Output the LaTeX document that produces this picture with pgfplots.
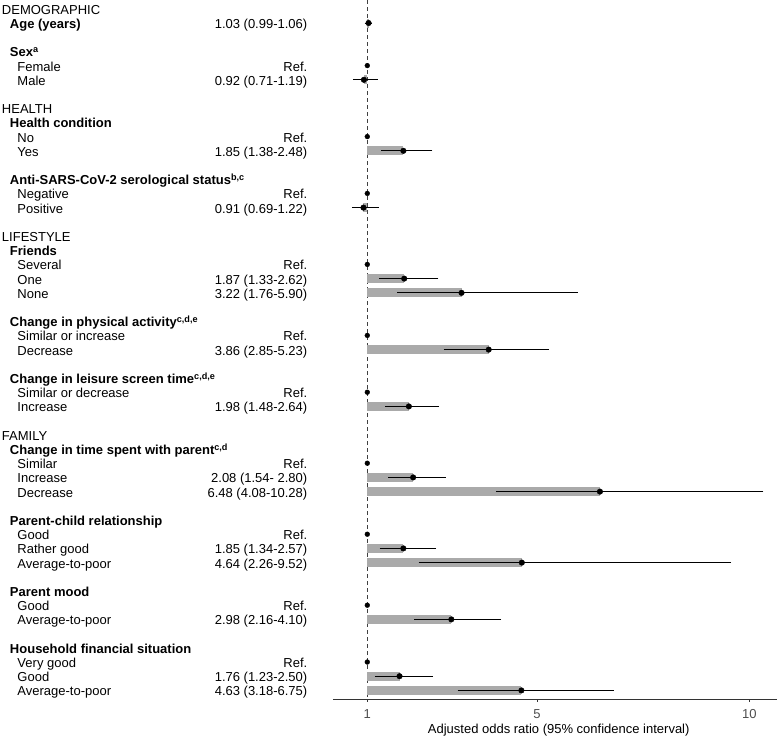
\documentclass[border=0pt]{standalone}
\usepackage{pgfplots}
\pgfplotsset{compat=1.18}
\usepackage{pgfplotstable}
\usepackage{fontspec}
\setmainfont{Liberation Sans}
\definecolor{bargray}{RGB}{170,170,170}
\definecolor{tickgray}{RGB}{77,77,77}
\newcommand{\f}{\fontsize{13bp}{15.6bp}\selectfont}

\pgfplotstableread{
k or lo hi
0 1.03 0.99 1.06
4 0.92 0.71 1.19
9 1.85 1.38 2.48
13 0.91 0.69 1.22
18 1.87 1.33 2.62
19 3.22 1.76 5.90
23 3.86 2.85 5.23
27 1.98 1.48 2.64
32 2.08 1.54 2.80
33 6.48 4.08 10.28
37 1.85 1.34 2.57
38 4.64 2.26 9.52
42 2.98 2.16 4.10
46 1.76 1.23 2.50
47 4.63 3.18 6.75
}\est

\pgfplotstableread{
k or
3 1
8 1
12 1
17 1
22 1
26 1
31 1
36 1
41 1
45 1
}\refs

\newcommand{\sect}[2]{\node[anchor=base west,inner sep=0pt,xshift=-365.5bp,yshift=-5.5bp,font=\f] at (axis cs:1,{-1*(#1)}) {#2};}
\newcommand{\var}[2]{\node[anchor=base west,inner sep=0pt,xshift=-357.5bp,yshift=-5.5bp,font=\f\bfseries] at (axis cs:1,{-1*(#1)}) {#2};}
\newcommand{\val}[2]{\node[anchor=base east,inner sep=0pt,xshift=-59.8bp,yshift=-5.5bp,font=\f] at (axis cs:1,{-1*(#1)}) {#2};}
\newcommand{\lev}[3]{\node[anchor=base west,inner sep=0pt,xshift=-350bp,yshift=-5.5bp,font=\f] at (axis cs:1,{-1*(#1)}) {#2};
\val{#1}{#3}}

\begin{document}
\begin{tikzpicture}[font=\f]
\begin{axis}[
  x=42.45bp, y=14.2bp,
  xmin=0.192, xmax=10.653, ymin=-47.6, ymax=1.6,
  axis x line*=bottom, axis y line=none,
  x axis line style={-, black!80, line width=0.8bp},
  clip=false,
  xtick={1,5,10}, ytick=\empty,
  tick align=outside, major tick length=3bp,
  xtick style={black!80, line width=0.8bp},
  /pgf/number format/assume math mode=true,
  xticklabel style={font=\f, text=tickgray, anchor=base, inner sep=0pt, yshift=-16.5bp},
]
% invisible bounding box
\path (axis cs:-7.6525,1.5986) rectangle (axis cs:10.7927,-50.232);

% reference line
\addplot[black!75, dash pattern=on 4bp off 3bp, line width=0.6bp] coordinates {(1,1.6) (1,-47.6)};

% bars (from 1 to OR)
\addplot[draw=none, mark=none, forget plot, error bars/.cd, x dir=plus, x explicit,
  error bar style={draw=bargray, line width=9bp}, error mark=none]
  table[x expr=1, y expr=-\thisrow{k}, x error plus expr={\thisrow{or}-1}] {\est};

% estimates with CI
\addplot[only marks, mark=*, mark size=2.8bp, black, error bars/.cd, x dir=both, x explicit,
  error bar style={black, line width=1.3bp}, error mark options={black, line width=0.8bp, mark size=2.2bp}]
  table[x=or, y expr=-\thisrow{k}, x error plus expr=\thisrow{hi}-\thisrow{or}, x error minus expr=\thisrow{or}-\thisrow{lo}] {\est};

% reference categories
\addplot[only marks, mark=*, mark size=2.4bp, black] table[x=or, y expr=-\thisrow{k}] {\refs};

\sect{-1}{DEMOGRAPHIC}
\var{0}{Age (years)}
\val{0}{1.03 (0.99-1.06)}
\var{2}{Sex\textsuperscript{a}}
\lev{3}{Female}{Ref.}
\lev{4}{Male}{0.92 (0.71-1.19)}
\sect{6}{HEALTH}
\var{7}{Health condition}
\lev{8}{No}{Ref.}
\lev{9}{Yes}{1.85 (1.38-2.48)}
\var{11}{Anti-SARS-CoV-2 serological status\textsuperscript{b,c}}
\lev{12}{Negative}{Ref.}
\lev{13}{Positive}{0.91 (0.69-1.22)}
\sect{15}{LIFESTYLE}
\var{16}{Friends}
\lev{17}{Several}{Ref.}
\lev{18}{One}{1.87 (1.33-2.62)}
\lev{19}{None}{3.22 (1.76-5.90)}
\var{21}{Change in physical activity\textsuperscript{c,d,e}}
\lev{22}{Similar or increase}{Ref.}
\lev{23}{Decrease}{3.86 (2.85-5.23)}
\var{25}{Change in leisure screen time\textsuperscript{c,d,e}}
\lev{26}{Similar or decrease}{Ref.}
\lev{27}{Increase}{1.98 (1.48-2.64)}
\sect{29}{FAMILY}
\var{30}{Change in time spent with parent\textsuperscript{c,d}}
\lev{31}{Similar}{Ref.}
\lev{32}{Increase}{2.08 (1.54- 2.80)}
\lev{33}{Decrease}{6.48 (4.08-10.28)}
\var{35}{Parent-child relationship}
\lev{36}{Good}{Ref.}
\lev{37}{Rather good}{1.85 (1.34-2.57)}
\lev{38}{Average-to-poor}{4.64 (2.26-9.52)}
\var{40}{Parent mood}
\lev{41}{Good}{Ref.}
\lev{42}{Average-to-poor}{2.98 (2.16-4.10)}
\var{44}{Household financial situation}
\lev{45}{Very good}{Ref.}
\lev{46}{Good}{1.76 (1.23-2.50)}
\lev{47}{Average-to-poor}{4.63 (3.18-6.75)}

\node[anchor=base, inner sep=0pt, font=\f, text height=9bp] at (axis cs:5.509,-50.0) {Adjusted odds ratio (95\% confidence interval)};
\end{axis}
\end{tikzpicture}
\end{document}
